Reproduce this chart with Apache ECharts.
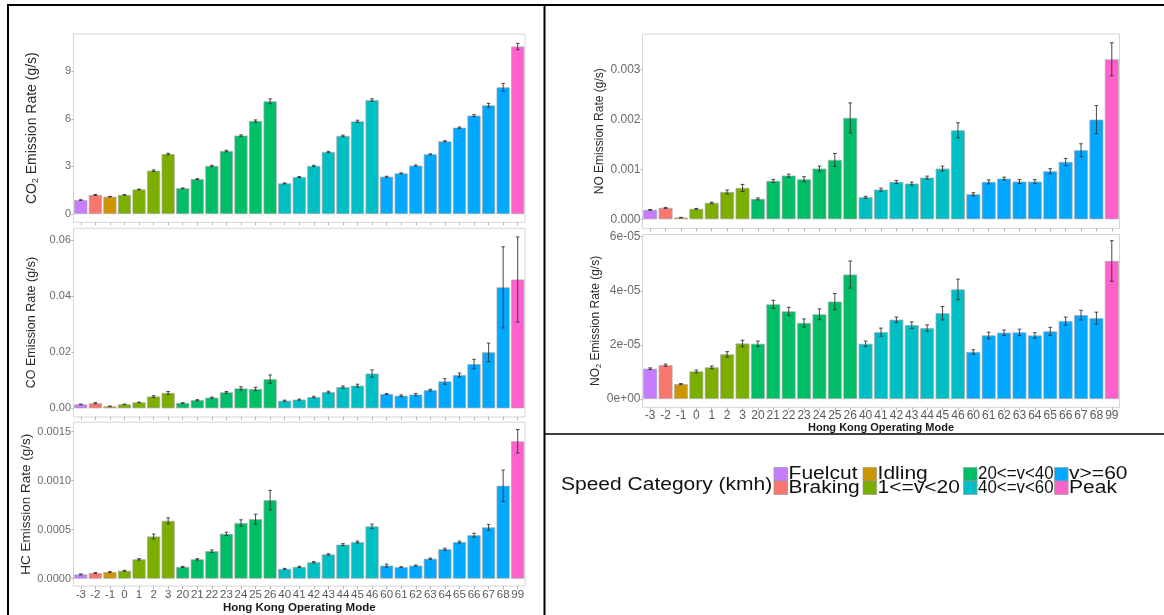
<!DOCTYPE html>
<html>
<head>
<meta charset="utf-8">
<script src="https://cdn.jsdelivr.net/npm/echarts@6/dist/echarts.min.js"></script>
<style>
  html, body { margin: 0; padding: 0; background: #ffffff; }
  #chart { width: 1164px; height: 615px; }
</style>
</head>
<body>
<div id="chart"></div>
<script>
// Hong Kong operating modes (x categories)
const modes = ['-3','-2','-1','0','1','2','3','20','21','22','23','24','25','26',
  '40','41','42','43','44','45','46','60','61','62','63','64','65','66','67','68','99'];

// Speed category of each operating mode and the category colours
const speedCategories = ['Fuelcut','Braking','Idling','1<=v<20','20<=v<40','40<=v<60','v>=60','Peak'];
const categoryColors = ['#C77CFF','#F8766D','#CD9600','#7CAE00','#00BE67','#00BFC4','#00A9FF','#FF61CC'];
const modeCategory = [0,1,2,3,3,3,3,4,4,4,4,4,4,4,5,5,5,5,5,5,5,6,6,6,6,6,6,6,6,6,7];

// Mean emission rates (g/s) and half-widths of their error bars
const co2 = [0.88,1.20,1.09,1.20,1.55,2.73,3.78,1.62,2.20,3.03,3.97,4.94,5.86,7.10,
  1.93,2.33,3.03,3.91,4.92,5.84,7.18,2.35,2.56,3.05,3.76,4.58,5.44,6.20,6.85,7.98,10.55];
const co2Err = [0.02,0.03,0.02,0.02,0.02,0.05,0.05,0.02,0.03,0.04,0.05,0.05,0.07,0.15,
  0.03,0.03,0.04,0.04,0.05,0.07,0.08,0.03,0.03,0.04,0.03,0.04,0.04,0.06,0.12,0.25,0.20];

const co = [0.0014,0.0018,0.0007,0.0014,0.0021,0.0042,0.0055,0.0019,0.0029,0.0038,0.0057,0.0071,0.0069,0.0104,
  0.0027,0.0031,0.0040,0.0058,0.0076,0.0081,0.0124,0.0051,0.0045,0.0049,0.0065,0.0096,0.0119,0.0158,0.0200,0.0432,0.0460];
const coErr = [0.0001,0.0002,0.0001,0.0001,0.0001,0.0003,0.0005,0.0001,0.0002,0.0002,0.0003,0.0006,0.0006,0.0015,
  0.0002,0.0002,0.0003,0.0003,0.0004,0.0005,0.0013,0.0002,0.0003,0.0004,0.0003,0.0010,0.0007,0.0017,0.0033,0.0145,0.0152];

const hc = [0.000043,0.000057,0.000067,0.000080,0.000197,0.000430,0.000590,0.000120,0.000197,0.000280,0.000457,0.000567,0.000607,0.000800,
  0.000100,0.000120,0.000167,0.000247,0.000347,0.000373,0.000533,0.000133,0.000117,0.000133,0.000203,0.000300,0.000373,0.000443,0.000523,0.000947,0.001400];
const hcErr = [0.000005,0.000005,0.000005,0.000005,0.000007,0.000025,0.000030,0.000006,0.000007,0.000013,0.000017,0.000033,0.000050,0.000100,
  0.000005,0.000006,0.000007,0.000007,0.000010,0.000010,0.000023,0.000015,0.000005,0.000006,0.000007,0.000010,0.000010,0.000020,0.000030,0.000160,0.000120];

const no = [0.000187,0.000227,0.000033,0.000207,0.000327,0.000547,0.000627,0.000407,0.000767,0.000873,0.000800,0.001013,0.001187,0.002027,
  0.000440,0.000593,0.000747,0.000713,0.000833,0.001013,0.001780,0.000500,0.000747,0.000813,0.000753,0.000753,0.000960,0.001147,0.001380,0.001993,0.003200];
const noErr = [0.000008,0.000010,0.000005,0.000010,0.000015,0.000040,0.000070,0.000020,0.000030,0.000030,0.000050,0.000050,0.000130,0.000300,
  0.000020,0.000030,0.000030,0.000030,0.000030,0.000050,0.000150,0.000030,0.000040,0.000030,0.000040,0.000040,0.000050,0.000070,0.000130,0.000280,0.000330];

const no2 = [1.12e-5,1.25e-5,0.55e-5,1.02e-5,1.17e-5,1.65e-5,2.05e-5,2.04e-5,3.50e-5,3.24e-5,2.81e-5,3.13e-5,3.60e-5,4.60e-5,
  2.04e-5,2.47e-5,2.93e-5,2.73e-5,2.62e-5,3.17e-5,4.05e-5,1.74e-5,2.35e-5,2.45e-5,2.46e-5,2.35e-5,2.50e-5,2.88e-5,3.10e-5,2.99e-5,5.10e-5];
const no2Err = [0.03e-5,0.04e-5,0.02e-5,0.05e-5,0.05e-5,0.10e-5,0.12e-5,0.10e-5,0.15e-5,0.15e-5,0.15e-5,0.20e-5,0.30e-5,0.50e-5,
  0.10e-5,0.15e-5,0.10e-5,0.12e-5,0.12e-5,0.25e-5,0.38e-5,0.08e-5,0.12e-5,0.10e-5,0.12e-5,0.10e-5,0.15e-5,0.15e-5,0.18e-5,0.22e-5,0.75e-5];

// Y tick positions and their printed labels
const co2Ticks = [0, 3, 6, 9];
const co2TickLabels = ['0', '3', '6', '9'];
const coTicks = [0, 0.02, 0.04, 0.06];
const coTickLabels = ['0.00', '0.02', '0.04', '0.06'];
const hcTicks = [0, 0.0005, 0.0010, 0.0015];
const hcTickLabels = ['0.0000', '0.0005', '0.0010', '0.0015'];
const noTicks = [0, 0.001, 0.002, 0.003];
const noTickLabels = ['0.000', '0.001', '0.002', '0.003'];
const no2Ticks = [0, 2e-5, 4e-5, 6e-5];
const no2TickLabels = ['0e+00', '2e-05', '4e-05', '6e-05'];

const xTitle = 'Hong Kong Operating Mode';
const legendTitle = 'Speed Category (kmh)';

// Panel layout: plotting box in pixels, value range, axis text
const FONT = '"Liberation Sans", Arial, Helvetica, sans-serif';
const LEFT = { left: 73.5, width: 451.5, yFont: 11, yMargin: 2.5 };
const RIGHT = { left: 642.5, width: 477, yFont: 12, yMargin: 2 };
const panels = [
  { col: LEFT, gas: 'CO', sub: '2', values: co2, err: co2Err, ticks: co2Ticks, labels: co2TickLabels,
    min: -0.52, max: 11.34, top: 34, height: 188.3, titleSize: 14, titleX: 32, showX: false },
  { col: LEFT, gas: 'CO', sub: '', values: co, err: coErr, ticks: coTicks, labels: coTickLabels,
    min: -0.00307, max: 0.0643, top: 228.3, height: 188.6, titleSize: 12.5, titleX: 32, showX: false },
  { col: LEFT, gas: 'HC', sub: '', values: hc, err: hcErr, ticks: hcTicks, labels: hcTickLabels,
    min: -0.0000757, max: 0.001595, top: 422.2, height: 167.7, titleSize: 13.5, titleX: 31,
    showX: true, xFont: 11.5, xMargin: 3, xTitleSize: 11.5, xTitleGap: 12 },
  { col: RIGHT, gas: 'NO', sub: '', values: no, err: noErr, ticks: noTicks, labels: noTickLabels,
    min: -0.000185, max: 0.003706, top: 34, height: 194.5, titleSize: 12, titleX: 600, showX: false },
  { col: RIGHT, gas: 'NO', sub: '2', values: no2, err: no2Err, ticks: no2Ticks, labels: no2TickLabels,
    min: -0.307e-5, max: 6.08e-5, top: 234.5, height: 172.8, titleSize: 12, titleX: 600,
    showX: true, xFont: 12, xMargin: 2, xTitleSize: 11, xTitleGap: 13 }
];

function tickLabel(p) {
  return function (v) {
    let best = 0;
    for (let k = 1; k < p.ticks.length; k++) {
      if (Math.abs(p.ticks[k] - v) < Math.abs(p.ticks[best] - v)) best = k;
    }
    return p.labels[best];
  };
}

function renderErrorBar(params, api) {
  const i = api.value(0), v = api.value(1), e = api.value(2);
  const hi = api.coord([i, v + e]);
  const lo = api.coord([i, v - e]);
  const half = api.size([1, 0])[0] * 0.12;
  const style = { stroke: '#333333', lineWidth: 0.9 };
  return {
    type: 'group',
    children: [
      { type: 'line', shape: { x1: hi[0], y1: hi[1], x2: lo[0], y2: lo[1] }, style: style },
      { type: 'line', shape: { x1: hi[0] - half, y1: hi[1], x2: hi[0] + half, y2: hi[1] }, style: style },
      { type: 'line', shape: { x1: lo[0] - half, y1: lo[1], x2: lo[0] + half, y2: lo[1] }, style: style }
    ]
  };
}

const grids = [], xAxes = [], yAxes = [], series = [];
panels.forEach(function (p, idx) {
  grids.push({
    left: p.col.left, top: p.top, width: p.col.width, height: p.height,
    show: true, borderColor: '#d6d6d6', borderWidth: 1, backgroundColor: 'transparent',
    containLabel: false
  });
  xAxes.push({
    gridIndex: idx, type: 'category', data: modes, position: 'bottom',
    axisLine: { show: false, onZero: false },
    axisTick: { show: true, alignWithLabel: true, length: 3, lineStyle: { color: '#b5b5b5', width: 1 } },
    axisLabel: { show: p.showX, interval: 0, fontFamily: FONT, fontSize: p.xFont || 11,
      color: '#5a5a5a', margin: p.xMargin || 3 },
    splitLine: { show: false },
    name: p.showX ? xTitle : '', nameLocation: 'middle', nameGap: p.xTitleGap || 12,
    nameTextStyle: { fontFamily: FONT, fontWeight: 'bold', fontSize: p.xTitleSize || 11, color: '#1a1a1a' }
  });
  const nameText = p.sub
    ? '{a|' + p.gas + '}{s|' + p.sub + '}{a| Emission Rate (g/s)}'
    : '{a|' + p.gas + ' Emission Rate (g/s)}';
  const lineH = p.titleSize + 3;
  yAxes.push({
    gridIndex: idx, type: 'value', min: p.min, max: p.max,
    axisLine: { show: false }, splitLine: { show: false },
    axisTick: { show: true, length: 2, customValues: p.ticks, lineStyle: { color: '#b5b5b5' } },
    axisLabel: { customValues: p.ticks, formatter: tickLabel(p), fontFamily: FONT,
      fontSize: p.col.yFont, color: '#6a6a6a', margin: p.col.yMargin },
    name: nameText, nameLocation: 'middle', nameRotate: 90,
    nameGap: p.col.left - p.titleX - lineH / 2,
    nameTextStyle: {
      rich: {
        a: { fontFamily: FONT, fontSize: p.titleSize, color: '#2b2b2b', lineHeight: lineH },
        s: { fontFamily: FONT, fontSize: p.titleSize * 0.62, color: '#2b2b2b',
             lineHeight: lineH, verticalAlign: 'bottom' }
      }
    }
  });
  series.push({
    type: 'bar', xAxisIndex: idx, yAxisIndex: idx, silent: true,
    barCategoryGap: '10%',
    itemStyle: { borderColor: '#a9a9a9', borderWidth: 0.7 },
    data: p.values.map(function (v, j) {
      return { value: v, itemStyle: { color: categoryColors[modeCategory[j]] } };
    })
  });
  series.push({
    type: 'custom', xAxisIndex: idx, yAxisIndex: idx, silent: true, z: 5,
    renderItem: renderErrorBar, encode: { x: 0, y: 1 },
    data: p.values.map(function (v, j) { return [j, v, p.err[j]]; })
  });
});

// Frame lines
const graphics = [
  { type: 'rect', shape: { x: 7, y: 4, width: 1157, height: 2 }, style: { fill: '#000' }, silent: true },
  { type: 'rect', shape: { x: 7, y: 4, width: 2, height: 611 }, style: { fill: '#000' }, silent: true },
  { type: 'rect', shape: { x: 543.5, y: 4, width: 2, height: 611 }, style: { fill: '#000' }, silent: true },
  { type: 'rect', shape: { x: 545, y: 433.2, width: 619, height: 1.6 }, style: { fill: '#000' }, silent: true }
];

// Shared legend: title plus a 2-row, 4-column key grid, text drawn slightly wide
const LEGEND_FONT_SIZE = 17.5;
const LEGEND_STRETCH = 1.2;
const measureCtx = document.createElement('canvas').getContext('2d');
measureCtx.font = LEGEND_FONT_SIZE + 'px ' + FONT;
graphics.push({ type: 'text', x: 561, y: 485.5, scaleX: LEGEND_STRETCH, silent: true,
  style: { text: legendTitle, font: LEGEND_FONT_SIZE + 'px ' + FONT, fill: '#111',
           verticalAlign: 'middle', align: 'left' } });
const legendCols = [774, 863, 963.5, 1054.5];
const legendRows = [467.5, 481];
const keyW = 13.6, keyH = 13.5;
speedCategories.forEach(function (name, k) {
  const c = Math.floor(k / 2);
  const cx = legendCols[c];
  const cy = legendRows[k % 2];
  const tx = cx + keyW + 1;
  const natural = measureCtx.measureText(name).width;
  let sx = LEGEND_STRETCH;
  if (c < legendCols.length - 1) {
    sx = Math.min(sx, (legendCols[c + 1] - tx - 1) / natural);
  }
  graphics.push({ type: 'rect', shape: { x: cx, y: cy, width: keyW, height: keyH }, silent: true,
    style: { fill: categoryColors[k], stroke: '#9a9a9a', lineWidth: 0.7 } });
  graphics.push({ type: 'text', x: tx, y: cy + 7, scaleX: sx, silent: true,
    style: { text: name, font: LEGEND_FONT_SIZE + 'px ' + FONT, fill: '#111',
             verticalAlign: 'middle', align: 'left' } });
});

const chart = echarts.init(document.getElementById('chart'), null, { renderer: 'canvas' });
chart.setOption({
  animation: false,
  backgroundColor: '#ffffff',
  grid: grids,
  xAxis: xAxes,
  yAxis: yAxes,
  series: series,
  graphic: graphics
});
</script>
</body>
</html>
